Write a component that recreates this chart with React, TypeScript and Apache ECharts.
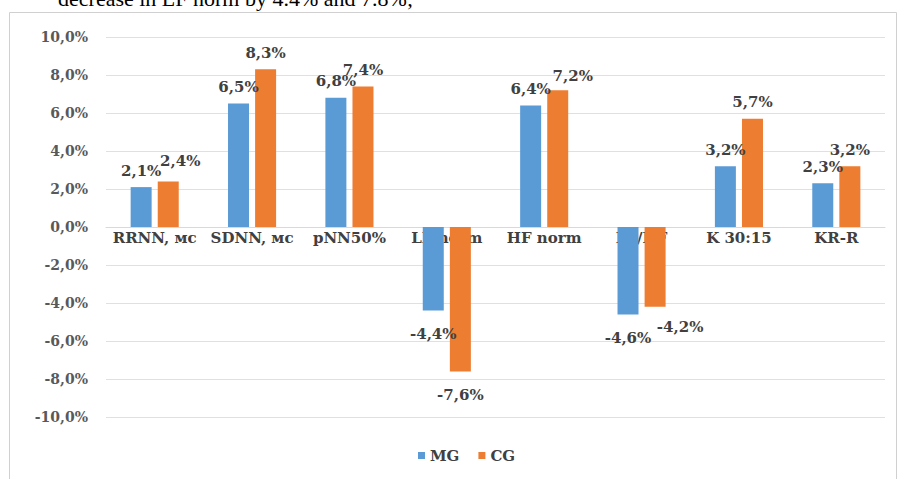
import React, { useEffect, useRef } from "react";
import * as echarts from "echarts";

const categories = ["RRNN, мс", "SDNN, мс", "pNN50%", "LF norm", "HF norm", "LF/HF", "K 30:15", "KR-R"];
const mgValues = [2.1, 6.5, 6.8, -4.4, 6.4, -4.6, 3.2, 2.3];
const cgValues = [2.4, 8.3, 7.4, -7.6, 7.2, -4.2, 5.7, 3.2];
const seriesNames = ["MG", "CG"];
const yTicks = { min: -10, max: 10, interval: 2 };
const captionText = "decrease in LF norm by 4.4% and 7.8%;";

const FONT = "'DejaVu Serif', 'Liberation Serif', serif";
const CAPTION_FONT = "'Liberation Serif', 'Times New Roman', serif";
const fmt = (v: number) => v.toFixed(1).replace(".", ",") + "%";

export default function App() {
  const ref = useRef<HTMLDivElement>(null);
  useEffect(() => {
    if (!ref.current) return;
    const chart = echarts.init(ref.current, undefined, { renderer: "svg" });
    const labelBase = {
      show: true,
      fontFamily: FONT,
      fontWeight: "bold" as const,
      fontSize: 15,
      color: "#404040",
      formatter: (p: any) => fmt(p.value),
    };
    const mkData = (vals: number[], overrides: Record<number, any>) =>
      vals.map((v, i) => {
        const lbl: any = { position: v >= 0 ? "top" : "bottom", distance: v >= 0 ? 9 : 16 };
        if (overrides[i]) Object.assign(lbl, overrides[i]);
        return { value: v, label: lbl };
      });
    const mgData = mkData(mgValues, {});
    const cgData = mkData(cgValues, {
      0: { offset: [12, -4] },
      4: { offset: [15, 2] },
      5: { offset: [25, -3] },
    });
    chart.setOption({
      animation: false,
      backgroundColor: "#ffffff",
      grid: { left: 106, right: 15, top: 37, bottom: 62, containLabel: false },
      legend: {
        data: seriesNames,
        left: 413,
        top: 443,
        itemWidth: 7,
        itemHeight: 7,
        itemGap: 19,
        icon: "rect",
        textStyle: { fontFamily: FONT, fontWeight: "bold", fontSize: 15, color: "#404040" },
      },
      xAxis: {
        type: "category",
        data: categories,
        position: "bottom",
        offset: -190,
        axisLine: { show: true, onZero: false, lineStyle: { color: "#d9d9d9" } },
        axisTick: { show: false },
        axisLabel: {
          fontFamily: FONT,
          fontWeight: "bold",
          fontSize: 15,
          color: "#404040",
          margin: 3,
          interval: 0,
        },
      },
      yAxis: {
        type: "value",
        min: yTicks.min,
        max: yTicks.max,
        interval: yTicks.interval,
        axisLine: { show: false },
        axisTick: { show: false },
        splitLine: { lineStyle: { color: "#e0e0e0", width: 1 } },
        axisLabel: {
          fontFamily: FONT,
          fontWeight: "bold",
          fontSize: 14,
          color: "#595959",
          margin: 18,
          formatter: (v: number) => fmt(v),
        },
      },
      series: [
        {
          name: seriesNames[0],
          type: "bar",
          data: mgData,
          barWidth: 21,
          barGap: "29%",
          z: 3,
          itemStyle: { color: "#5B9BD5" },
          label: labelBase,
        },
        {
          name: seriesNames[1],
          type: "bar",
          data: cgData,
          barWidth: 21,
          barGap: "29%",
          z: 3,
          itemStyle: { color: "#ED7D31" },
          label: labelBase,
        },
      ],
      graphic: [
        {
          type: "rect",
          silent: true,
          z: -10,
          shape: { x: 9.5, y: 12.5, width: 887, height: 480 },
          style: { fill: "none", stroke: "#d0d0d0", lineWidth: 1 },
        },
        {
          type: "text",
          x: 413,
          y: 9,
          style: {
            text: captionText,
            font: "22px " + CAPTION_FONT,
            fill: "#000000",
            align: "right",
            verticalAlign: "bottom",
          },
        },
      ],
    });
    return () => chart.dispose();
  }, []);
  return (
    <div
      ref={ref}
      style={{ position: "fixed", left: 0, top: 0, width: 900, height: 479, background: "#fff" }}
    />
  );
}
